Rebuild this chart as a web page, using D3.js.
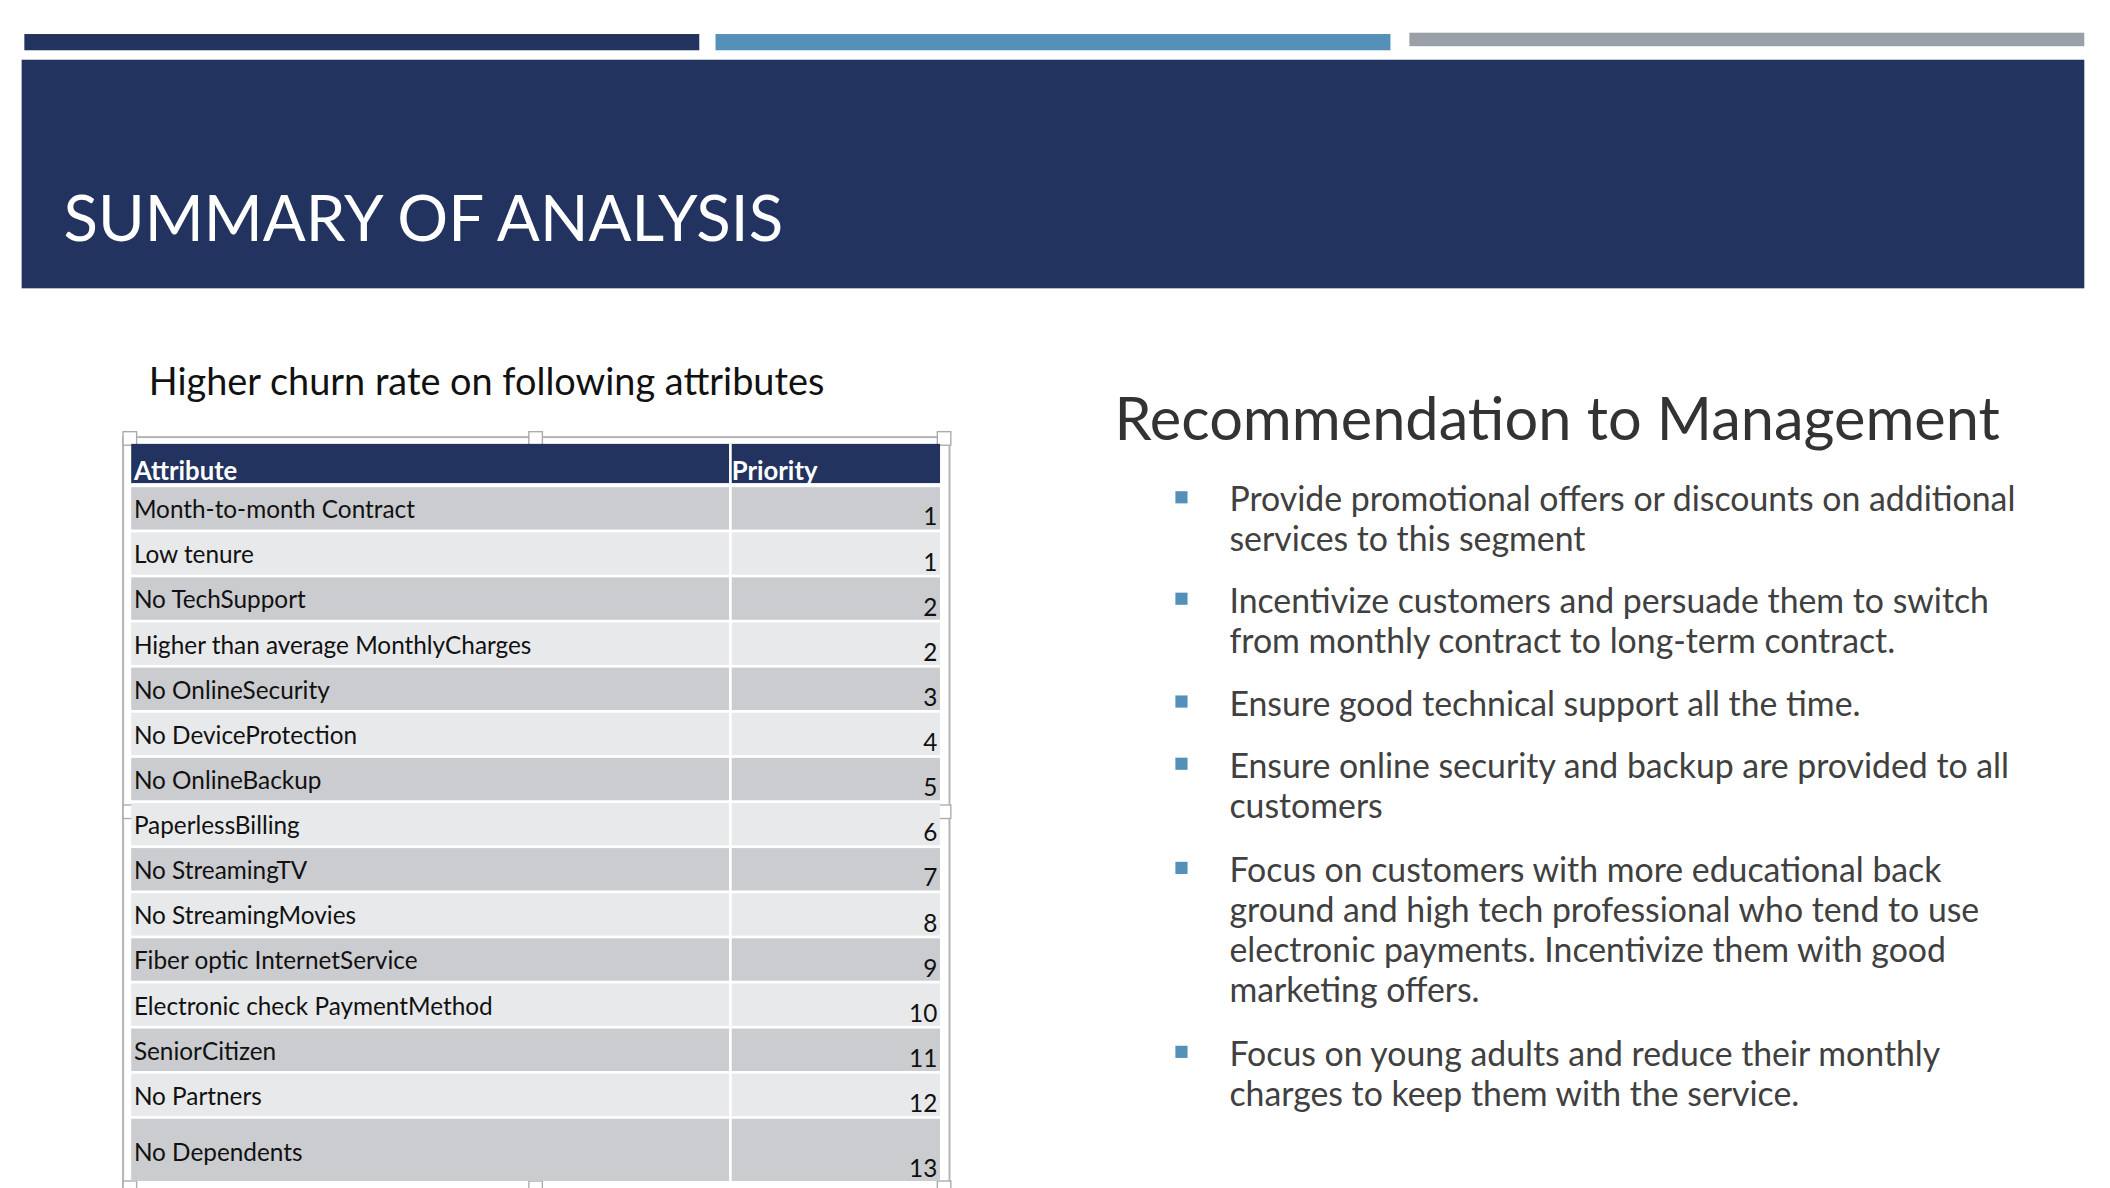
<!DOCTYPE html>
<html><head><meta charset="utf-8">
<script src="https://cdn.jsdelivr.net/npm/d3@7"></script>
<style>body{margin:0;background:#fff}svg{display:block}</style>
</head><body>
<svg id="c" width="2110" height="1188" viewBox="0 0 1560 878"></svg>
<script>
var attributes = ["Month-to-month Contract", "Low tenure", "No TechSupport", "Higher than average MonthlyCharges",
    "No OnlineSecurity", "No DeviceProtection", "No OnlineBackup", "PaperlessBilling", "No StreamingTV",
    "No StreamingMovies", "Fiber optic InternetService", "Electronic check PaymentMethod", "SeniorCitizen",
    "No Partners", "No Dependents"];
var priorities = [1, 1, 2, 2, 3, 4, 5, 6, 7, 8, 9, 10, 11, 12, 13];
var recommendations = [
    ["Provide promotional offers or discounts on additional", "services to this segment"],
    ["Incentivize customers and persuade them to switch", "from monthly contract to long-term contract."],
    ["Ensure good technical support all the time."],
    ["Ensure online security and backup are provided to all", "customers"],
    ["Focus on customers with more educational back", "ground and high tech professional who tend to use",
        "electronic payments. Incentivize them with good", "marketing offers."],
    ["Focus on young adults and reduce their monthly", "charges to keep them with the service."]
];

var FONT = "Lato, 'Open Sans', sans-serif";
var svg = d3.select("#c");

// top strips
var strips = [["#21335e", 18, 517, 25, 12], ["#5590b9", 529, 1028, 25, 12], ["#9aa0a8", 1042, 1541, 24, 10]];
svg.selectAll("rect.strip").data(strips).enter().append("rect")
    .attr("x", function (d) { return d[1]; }).attr("width", function (d) { return d[2] - d[1]; })
    .attr("y", function (d) { return d[3]; }).attr("height", function (d) { return d[4]; })
    .attr("fill", function (d) { return d[0]; });

svg.append("rect").attr("x", 16).attr("y", 44).attr("width", 1525).attr("height", 169).attr("fill", "#21335e");
svg.append("text").attr("x", 47).attr("y", 178).attr("fill", "#fff").attr("font-family", FONT)
    .attr("font-size", 47).text("SUMMARY OF ANALYSIS");

svg.append("text").attr("x", 110).attr("y", 292).attr("fill", "#111").attr("font-family", FONT)
    .attr("font-size", 28).text("Higher churn rate on following attributes");

// table
var tx0 = 97, tx1 = 695, split = 540;
svg.append("rect").attr("x", 91).attr("y", 323).attr("width", 611).attr("height", 557)
    .attr("fill", "none").attr("stroke", "#b5b5b5").attr("stroke-width", 1.5);
[[96, 324], [396, 324], [698, 324], [96, 600], [698, 600], [96, 878], [396, 878], [698, 878]].forEach(function (p) {
    svg.append("rect").attr("x", p[0] - 5).attr("y", p[1] - 5).attr("width", 10).attr("height", 10)
        .attr("fill", "#fff").attr("stroke", "#aaa");
});
svg.append("rect").attr("x", tx0).attr("y", 328).attr("width", tx1 - tx0).attr("height", 29).attr("fill", "#21335e");
svg.append("text").attr("x", 99).attr("y", 355).attr("fill", "#fff").attr("font-family", FONT)
    .attr("font-weight", "bold").attr("font-size", 19).text("Attribute");
svg.append("text").attr("x", 541).attr("y", 355).attr("fill", "#fff").attr("font-family", FONT)
    .attr("font-weight", "bold").attr("font-size", 19).text("Priority");

var bounds = [];
var y = d3.scaleLinear().domain([0, 14]).range([360, 827]);
attributes.forEach(function (a, i) {
    var top = y(i), bot = i === 14 ? 875 : y(i + 1);
    bounds.push([top, bot]);
});
var rows = svg.selectAll("g.row").data(attributes).enter().append("g");
rows.append("rect").attr("x", tx0).attr("width", tx1 - tx0)
    .attr("y", function (d, i) { return bounds[i][0]; })
    .attr("height", function (d, i) { return bounds[i][1] - bounds[i][0] - 2; })
    .attr("fill", function (d, i) { return i % 2 ? "#e8e9eb" : "#cbccd0"; });
rows.append("text").attr("x", 99).attr("font-family", FONT).attr("font-size", 18).attr("fill", "#111")
    .attr("y", function (d, i) { return i === 14 ? 858 : bounds[i][0] + 23; }).text(function (d) { return d; });
rows.append("text").attr("x", 693).attr("text-anchor", "end").attr("font-family", FONT).attr("font-size", 18)
    .attr("fill", "#111").attr("y", function (d, i) { return bounds[i][1] - 5; })
    .text(function (d, i) { return priorities[i]; });
svg.append("line").attr("x1", split).attr("x2", split).attr("y1", 328).attr("y2", 875)
    .attr("stroke", "#fff").attr("stroke-width", 2);

// recommendations
svg.append("text").attr("x", 824).attr("y", 325).attr("fill", "#333").attr("font-family", FONT)
    .attr("font-size", 44).text("Recommendation to Management");
var starts = [378, 453, 529, 575, 652, 788];
recommendations.forEach(function (lines, i) {
    svg.append("rect").attr("x", 869).attr("y", starts[i] - 15).attr("width", 9).attr("height", 9).attr("fill", "#5590b9");
    lines.forEach(function (l, j) {
        svg.append("text").attr("x", 909).attr("y", starts[i] + j * 29.5).attr("fill", "#404040")
            .attr("font-family", FONT).attr("font-size", 25).text(l);
    });
});
</script>
</body></html>
